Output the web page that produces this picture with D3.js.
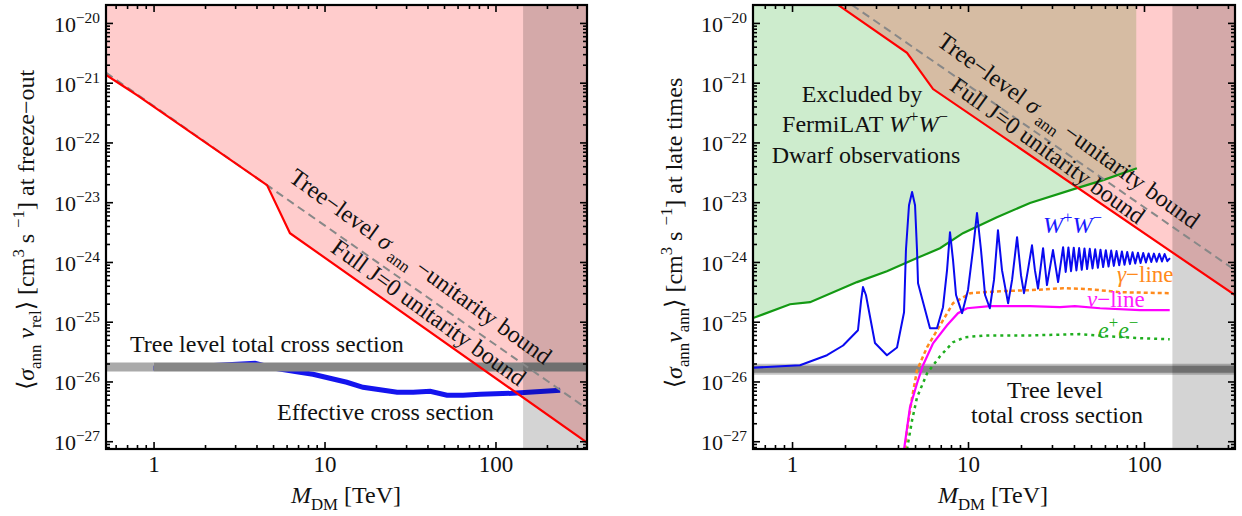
<!DOCTYPE html>
<html lang="en">
<head>
<meta charset="UTF-8">
<title>Annihilation cross section vs DM mass</title>
<script src="https://d3js.org/d3.v7.min.js"></script>
<style>
  body { margin: 0; background: #fff; }
  svg text { font-family: 'Liberation Serif', 'DejaVu Serif', serif; fill: #111; }
</style>
</head>
<body>
<svg id="chart" width="1242" height="516"></svg>
<script>
// ---- data: [M_DM in TeV, <sigma v> in cm^3/s] ----

// left panel (freeze-out)
const leftFullJ0 = [[0.527, 1.35e-21], [0.663, 8.8e-22], [0.80, 6.2e-22], [4.61, 1.93e-23], [6.28, 3.03e-24], [343, 9.5e-28]];
const leftTreeLevel = [[0.527, 1.47e-21], [343, 3.5e-27]];
const leftEffective = [[0.954, 1.66e-26], [1.87, 1.80e-26], [3.92, 2.02e-26], [5.13, 1.66e-26], [7.18, 1.43e-26],
  [8.56, 1.32e-26], [13.5, 9.7e-27], [16.8, 8.0e-27], [26.6, 6.6e-27], [33.0, 6.6e-27], [41.5, 6.85e-27],
  [52.0, 5.9e-27], [64.6, 5.9e-27], [81.5, 6.1e-27], [126, 6.35e-27], [239, 7.1e-27]];
const leftThermal = 1.75e-26;

// right panel (late times)
const rightFullJ0 = [[1.826, 2.0e-20], [4.5, 3.16e-21], [6.33, 7.83e-22], [329, 2.78e-25]];
const rightTreeLevel = [[2.19, 2.0e-20], [329, 7.3e-25]];
const fermiWW = [[0.600, 1.15e-25], [0.974, 1.96e-25], [1.266, 2.12e-25], [2.34, 4.6e-25], [3.46, 7.0e-25],
  [5.13, 1.16e-24], [6.93, 1.7e-24], [9.36, 3.03e-24], [14.6, 5.6e-24], [22.5, 9.7e-24], [41.6, 1.72e-23],
  [58.6, 2.34e-23], [91.1, 3.7e-23]];
const wwLine = [[0.60, 1.7e-26], [1.11, 1.87e-26], [1.58, 2.75e-26], [1.95, 4.0e-26], [2.37, 7.2e-26],
  [2.47, 2.3e-25], [2.53, 3.8e-25], [2.63, 2.8e-25], [2.96, 4.4e-26], [3.46, 2.75e-26], [3.95, 3.7e-26],
  [4.33, 1.44e-25], [4.44, 1.6e-24], [4.62, 8.9e-24], [4.81, 1.48e-23], [5.00, 8.9e-24], [5.13, 1.6e-24],
  [5.20, 4.4e-25], [6.08, 7.8e-26], [6.66, 7.8e-26], [7.21, 1.75e-25], [7.60, 7.3e-25], [7.90, 3.15e-24],
  [8.22, 1.07e-24], [8.55, 2.8e-25], [9.25, 1.39e-25], [10.0, 3.4e-25], [10.67, 1.6e-24], [11.25, 6.6e-24],
  [11.85, 1.6e-24], [12.5, 2.8e-25], [13.3, 1.68e-25], [14.05, 5.0e-25], [14.8, 3.4e-24], [15.6, 7.3e-25],
  [16.9, 2.04e-25], [17.8, 5.0e-25], [19.0, 2.6e-24], [20.0, 6.0e-25], [20.8, 3.0e-25], [21.9, 7.3e-25],
  [23.1, 1.9e-24], [24.0, 7.3e-25], [25.0, 3.6e-25], [26.7, 1.7e-24], [28.1, 4.1e-25], [30.4, 1.58e-24],
  [32.5, 4.6e-25], [34.7, 1.77e-24], [35.9, 6.8e-25], [37.2, 1.75e-24], [38.5, 7.0e-25], [39.9, 1.73e-24],
  [41.3, 7.2e-25], [42.8, 1.71e-24], [44.3, 7.4e-25], [45.9, 1.68e-24], [47.5, 7.6e-25], [49.2, 1.66e-24],
  [51.0, 7.8e-25], [52.8, 1.63e-24], [54.7, 8.0e-25], [56.6, 1.60e-24], [58.6, 8.2e-25], [60.7, 1.57e-24],
  [62.9, 8.4e-25], [65.1, 1.55e-24], [67.4, 8.6e-25], [69.8, 1.52e-24], [72.3, 8.8e-25], [74.9, 1.50e-24],
  [77.5, 9.0e-25], [80.3, 1.47e-24], [83.2, 9.2e-25], [86.1, 1.45e-24], [89.2, 9.4e-25], [92.4, 1.43e-24],
  [95.6, 9.6e-25], [99.0, 1.41e-24], [102.6, 9.8e-25], [106.2, 1.39e-24], [110.0, 1.0e-24], [113.9, 1.38e-24],
  [118.0, 1.01e-24], [122.2, 1.37e-24], [126.5, 1.02e-24], [131.0, 1.36e-24], [135.7, 1.03e-24], [140.5, 1.16e-24]];
const gammaLine = [[4.39, 7.3e-28], [4.50, 1.52e-27], [4.81, 5.4e-27], [5.13, 1.54e-26], [5.85, 3.74e-26],
  [6.93, 8.7e-26], [8.22, 2.04e-25], [10.3, 3.0e-25], [15.2, 3.24e-25], [22.5, 3.37e-25], [34.7, 3.64e-25],
  [49.1, 3.5e-25], [73.0, 3.12e-25], [140, 3.0e-25]];
const nuLine = [[4.33, 7.3e-28], [4.68, 3.7e-27], [5.13, 9.3e-27], [5.55, 1.87e-26], [6.33, 4.36e-26],
  [7.60, 8.7e-26], [8.77, 1.39e-25], [9.88, 1.68e-25], [13.3, 1.82e-25], [22.5, 1.82e-25], [33.3, 1.75e-25],
  [40.5, 1.82e-25], [56.3, 1.68e-25], [94.9, 1.56e-25], [140, 1.56e-25]];
const eeLine = [[4.50, 7.3e-28], [4.81, 2.24e-27], [5.13, 5.4e-27], [5.85, 1.37e-26], [6.93, 2.64e-26],
  [8.22, 4.54e-26], [9.6, 5.5e-26], [12.5, 5.9e-26], [22.5, 5.9e-26], [43.2, 6.2e-26], [64.1, 5.7e-26],
  [94.9, 5.3e-26], [140, 5.1e-26]];
const rightThermal = 1.6e-26;

const fermiMax = 90.4;      // end of the FermiLAT region
const perturbMax = 145;     // start of the grey band on the right
const xTicksMajor = [1, 10, 100];
const xTicksMinor = [0.5, 0.6, 0.7, 0.8, 0.9, 2, 3, 4, 5, 6, 7, 8, 9, 20, 30, 40, 50, 60, 70, 80, 90, 200, 300];
const yDecades = [-27, -26, -25, -24, -23, -22, -21, -20];
const yMultiples = [2, 3, 4, 5, 6, 7, 8, 9];

// ---- layout ----
const svg = d3.select("#chart");
const top0 = 5, bot0 = 449;
const y = d3.scaleLog().domain([Math.pow(10, -27.13), Math.pow(10, -19.70)]).range([bot0, top0]);
const xL = d3.scaleLog().domain([0.527, 343]).range([106, 587]);
const xR = d3.scaleLog().domain([0.600, 329]).range([753, 1235]);

const PINK = "#ffcccc", GREENFILL = "#cdeccd", TAN = "#d6bca3";

function rich(g, x, yy, parts, opts) {
  const size = opts.size || 24;
  const t = g.append("text").attr("x", x).attr("y", yy)
    .attr("font-size", size)
    .attr("text-anchor", opts.anchor || "start");
  if (opts.fill) t.style("fill", opts.fill);
  if (opts.rotate != null) t.attr("transform", `rotate(${opts.rotate},${x},${yy})`);
  let shift = 0;
  parts.forEach(p => {
    const kind = p[1] || "";
    let off = 0, fs = size;
    if (kind.includes("sub")) { off = size * 0.28; fs = size * 0.7; }
    if (kind.includes("sup")) { off = -size * 0.4; fs = size * 0.7; }
    const ts = t.append("tspan").text(p[0]).attr("font-size", fs).attr("dy", off - shift);
    if (kind.includes("it")) ts.attr("font-style", "italic");
    shift = off;
  });
  return t;
}

function panel(id, x) {
  const [x0, x1] = x.range();
  const g = svg.append("g");
  g.append("clipPath").attr("id", "clip-" + id)
    .append("rect").attr("x", x0).attr("y", top0).attr("width", x1 - x0).attr("height", bot0 - top0);
  const plot = g.append("g").attr("clip-path", `url(#clip-${id})`);
  const line = d3.line().x(d => x(d[0])).y(d => y(d[1]));
  const areaAbove = d3.area().x(d => x(d[0])).y0(top0 - 2).y1(d => y(d[1]));
  return { g, plot, line, areaAbove, x0, x1 };
}

function axes(p, x) {
  const { g, x0, x1 } = p;
  const dom = x.domain();
  const minorX = xTicksMinor.filter(v => v > dom[0] && v < dom[1]);
  const yMinor = [];
  yDecades.forEach(e => yMultiples.forEach(m => {
    const v = m * Math.pow(10, e - 1);
    if (v > y.domain()[0] && v < y.domain()[1]) yMinor.push(v);
  }));
  const yMajor = yDecades.map(e => Math.pow(10, e));

  const style = sel => {
    sel.select(".domain").remove();
    sel.selectAll(".tick line").attr("stroke", "#000").attr("stroke-width", 1.6);
  };
  g.append("g").attr("transform", `translate(0,${bot0})`)
    .call(d3.axisBottom(x).tickValues(xTicksMajor).tickSize(-7).tickPadding(7).tickFormat(d3.format("d")))
    .call(style)
    .call(s => s.selectAll("text").attr("font-size", 23).style("font-family", "'Liberation Serif', serif").style("fill", "#111"));
  g.append("g").attr("transform", `translate(0,${bot0})`)
    .call(d3.axisBottom(x).tickValues(minorX).tickSize(-4).tickFormat("")).call(style);
  g.append("g").attr("transform", `translate(0,${top0})`)
    .call(d3.axisTop(x).tickValues(xTicksMajor).tickSize(-7).tickFormat("")).call(style);
  g.append("g").attr("transform", `translate(0,${top0})`)
    .call(d3.axisTop(x).tickValues(minorX).tickSize(-4).tickFormat("")).call(style);
  [[d3.axisLeft, x0], [d3.axisRight, x1]].forEach(([ax, pos]) => {
    g.append("g").attr("transform", `translate(${pos},0)`)
      .call(ax(y).tickValues(yMajor).tickSize(-7).tickFormat("")).call(style);
    g.append("g").attr("transform", `translate(${pos},0)`)
      .call(ax(y).tickValues(yMinor).tickSize(-4).tickFormat("")).call(style);
  });
  yDecades.forEach(e => {
    rich(g, x0 - 6, y(Math.pow(10, e)) + 9, [["10"], ["\u2212" + Math.abs(e), "sup"]], { size: 22, anchor: "end" });
  });
  g.append("rect").attr("x", x0).attr("y", top0).attr("width", x1 - x0).attr("height", bot0 - top0)
    .attr("fill", "none").attr("stroke", "#000").attr("stroke-width", 2.2);
}

// ================= LEFT PANEL =================
const L = panel("L", xL);
L.plot.append("path").attr("d", L.areaAbove(leftFullJ0)).attr("fill", PINK);
L.plot.append("path").attr("d", L.line(leftEffective)).attr("fill", "none")
  .attr("stroke", "#1414ee").attr("stroke-width", 5);
L.plot.append("line").attr("x1", L.x0).attr("x2", xL(1)).attr("y1", y(leftThermal)).attr("y2", y(leftThermal))
  .attr("stroke", "#aaaaaa").attr("stroke-width", 9);
L.plot.append("line").attr("x1", xL(1)).attr("x2", L.x1).attr("y1", y(leftThermal)).attr("y2", y(leftThermal))
  .attr("stroke", "#868686").attr("stroke-width", 9);
L.plot.append("rect").attr("x", xL(perturbMax)).attr("y", top0).attr("width", L.x1 - xL(perturbMax))
  .attr("height", bot0 - top0).attr("fill", "#000").attr("fill-opacity", 0.17);
L.plot.append("path").attr("d", L.line(leftTreeLevel)).attr("fill", "none")
  .attr("stroke", "#888").attr("stroke-width", 2).attr("stroke-dasharray", "8,5");
L.plot.append("path").attr("d", L.line(leftFullJ0)).attr("fill", "none")
  .attr("stroke", "#ff0000").attr("stroke-width", 2.2);

rich(L.g, 130, 352, [["Tree level total cross section"]], {});
rich(L.g, 277, 420, [["Effective cross section"]], {});
rich(L.g, 416, 273, [["Tree\u2212level "], ["\u03c3", "it"], [" ann", "sub"], [" \u2212unitarity bound"]], { anchor: "middle", rotate: 35.8 });
rich(L.g, 424, 319, [["Full J=0 unitarity bound"]], { anchor: "middle", rotate: 35.8 });
axes(L, xL);
rich(L.g, 34, 230, [["\u27e8"], ["\u03c3", "it"], ["ann", "sub"], [" "], ["v", "it"], ["rel", "sub"], ["\u27e9 [cm"], ["3", "sup"], [" s "], ["\u22121", "sup"], ["] at freeze\u2212out"]], { anchor: "middle", rotate: -90 });
rich(L.g, 346, 503, [["M", "it"], ["DM", "sub"], [" [TeV]"]], { anchor: "middle" });

// ================= RIGHT PANEL =================
const R = panel("R", xR);
const fermiArea = [[fermiWW[0][0], fermiWW[0][1]], ...fermiWW.slice(1, -1), [fermiMax, fermiWW[fermiWW.length - 1][1]]];
const fermiPath = R.areaAbove(fermiArea);
R.g.append("clipPath").attr("id", "clip-fermi").append("path").attr("d", fermiPath);
R.plot.append("path").attr("d", fermiPath).attr("fill", GREENFILL);
R.plot.append("path").attr("d", R.areaAbove(rightFullJ0)).attr("fill", PINK);
R.plot.append("g").attr("clip-path", "url(#clip-fermi)")
  .append("path").attr("d", R.areaAbove(rightFullJ0)).attr("fill", TAN);
R.plot.append("path").attr("d", R.line(fermiWW)).attr("fill", "none")
  .attr("stroke", "#139913").attr("stroke-width", 2.2);
R.plot.append("line").attr("x1", R.x0).attr("x2", R.x1).attr("y1", y(rightThermal)).attr("y2", y(rightThermal))
  .attr("stroke", "#c4c4c4").attr("stroke-width", 11);
R.plot.append("line").attr("x1", R.x0).attr("x2", R.x1).attr("y1", y(rightThermal)).attr("y2", y(rightThermal))
  .attr("stroke", "#858585").attr("stroke-width", 7);
R.plot.append("path").attr("d", R.line(eeLine)).attr("fill", "none")
  .attr("stroke", "#1fae1f").attr("stroke-width", 2.5).attr("stroke-dasharray", "3,4");
R.plot.append("path").attr("d", R.line(gammaLine)).attr("fill", "none")
  .attr("stroke", "#ff8a1c").attr("stroke-width", 2.5).attr("stroke-dasharray", "4,3");
R.plot.append("path").attr("d", R.line(nuLine)).attr("fill", "none")
  .attr("stroke", "#ff00ff").attr("stroke-width", 2.2);
R.plot.append("path").attr("d", R.line(wwLine)).attr("fill", "none")
  .attr("stroke", "#0a0af0").attr("stroke-width", 2).attr("stroke-linejoin", "round");
R.plot.append("rect").attr("x", xR(perturbMax)).attr("y", top0).attr("width", R.x1 - xR(perturbMax))
  .attr("height", bot0 - top0).attr("fill", "#000").attr("fill-opacity", 0.17);
R.plot.append("path").attr("d", R.line(rightTreeLevel)).attr("fill", "none")
  .attr("stroke", "#888").attr("stroke-width", 2).attr("stroke-dasharray", "8,5");
R.plot.append("path").attr("d", R.line(rightFullJ0)).attr("fill", "none")
  .attr("stroke", "#ff0000").attr("stroke-width", 2.2);

rich(R.g, 862, 102, [["Excluded by"]], { anchor: "middle" });
rich(R.g, 865, 132, [["FermiLAT "], ["W", "it"], ["+", "sup"], ["W", "it"], ["\u2212", "sup"]], { anchor: "middle" });
rich(R.g, 866, 163, [["Dwarf observations"]], { anchor: "middle" });
rich(R.g, 1055, 398, [["Tree level"]], { anchor: "middle" });
rich(R.g, 1057, 423, [["total cross section"]], { anchor: "middle" });
rich(R.g, 1043, 233, [["W", "it"], ["+", "sup"], ["W", "it"], ["\u2212", "sup"]], { fill: "#1a1aff" });
rich(R.g, 1117, 282, [["\u03b3", "it"], ["\u2212line"]], { fill: "#ff8a1c", size: 23 });
rich(R.g, 1087, 307, [["\u03bd", "it"], ["\u2212line"]], { fill: "#ff1aff", size: 23 });
rich(R.g, 1098, 338, [["e", "it"], ["+", "sup"], ["e", "it"], ["\u2212", "sup"]], { fill: "#1fae1f" });
rich(R.g, 1064, 137, [["Tree\u2212level "], ["\u03c3", "it"], [" ann", "sub"], [" \u2212unitarity bound"]], { anchor: "middle", rotate: 35.8 });
rich(R.g, 1043, 157, [["Full J=0 unitarity bound"]], { anchor: "middle", rotate: 35.8 });
axes(R, xR);
rich(R.g, 682, 233, [["\u27e8"], ["\u03c3", "it"], ["ann", "sub"], ["v", "it"], ["ann", "sub"], ["\u27e9 [cm"], ["3", "sup"], [" s "], ["\u22121", "sup"], ["] at late times"]], { anchor: "middle", rotate: -90 });
rich(R.g, 993, 503, [["M", "it"], ["DM", "sub"], [" [TeV]"]], { anchor: "middle" });
</script>
</body>
</html>
